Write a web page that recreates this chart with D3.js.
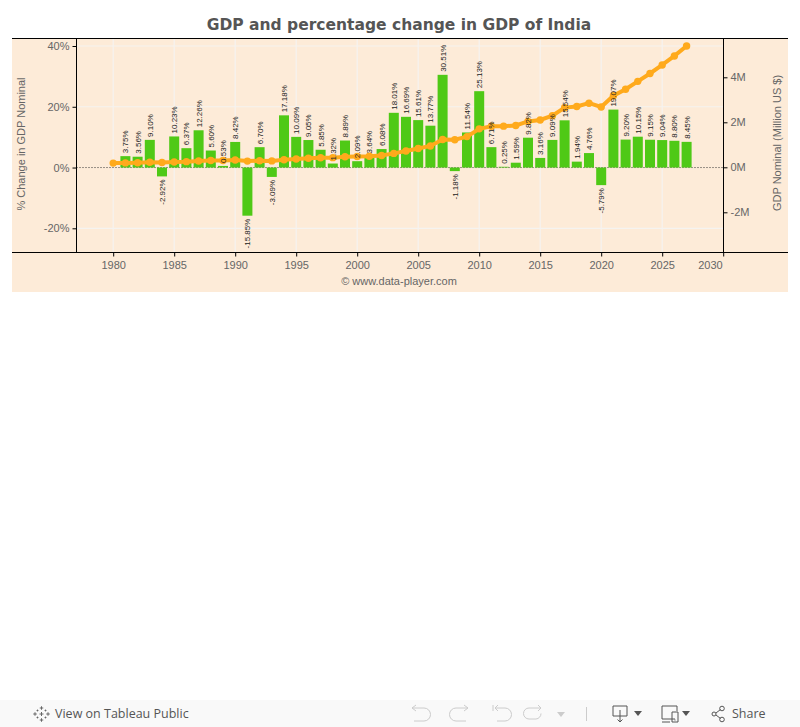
<!DOCTYPE html>
<html><head><meta charset="utf-8">
<script src="https://cdn.jsdelivr.net/npm/d3@7/dist/d3.min.js"></script>
<style>html,body{margin:0;padding:0;background:#fff;overflow:hidden}svg{display:block}text{font-family:"Liberation Sans",Arial,sans-serif}</style>
</head><body><svg id="c" width="800" height="727"></svg>
<script>
const years=[1980,1981,1982,1983,1984,1985,1986,1987,1988,1989,1990,1991,1992,1993,1994,1995,1996,1997,1998,1999,2000,2001,2002,2003,2004,2005,2006,2007,2008,2009,2010,2011,2012,2013,2014,2015,2016,2017,2018,2019,2020,2021,2022,2023,2024,2025,2026,2027];
const pctChange=[null,3.75,3.56,9.10,-2.92,10.23,6.37,12.26,5.60,0.53,8.42,-15.85,6.70,-3.09,17.18,10.09,9.05,5.85,1.32,8.89,2.09,3.64,6.08,18.01,16.69,15.61,13.77,30.51,-1.18,11.54,25.13,6.71,0.25,1.59,9.82,3.16,9.09,15.54,1.94,4.76,-5.79,19.07,9.20,10.15,9.15,9.04,8.80,8.45];
const gdpMillions=[186000,196000,204000,222000,215000,237000,252000,283000,299000,301000,327000,275000,293000,284000,333000,367000,400000,423000,429000,467000,477000,494000,524000,618000,722000,834000,949000,1238000,1224000,1365000,1708000,1823000,1828000,1857000,2039000,2104000,2295000,2652000,2703000,2850000,2680000,3180000,3470000,3820000,4170000,4550000,4950000,5390000];
const xTicks=[1980,1985,1990,1995,2000,2005,2010,2015,2020,2025,2030];
const pctTicks=[-20,0,20,40];
const gdpTicks=[-2000000,0,2000000,4000000];

const svg=d3.select("#c");
const x=d3.scaleLinear().domain([1977,2030]).range([76.6,723.2]);
const yP=d3.scaleLinear().domain([-20,40]).range([228.3,46]);
const yG=d3.scaleLinear().domain([-2000000,4000000]).range([212.3,77.3]);
const L=76.5,R=723.5,T=38.5,B=252.5;
const grey="#666";

svg.append("text").attr("x",399).attr("y",30).attr("text-anchor","middle")
  .style("font-family","'DejaVu Sans',sans-serif").style("font-weight","bold").style("font-size","15.5px").attr("fill","#555")
  .text("GDP and percentage change in GDP of India");
svg.append("rect").attr("x",12).attr("y",38).attr("width",776).attr("height",254).attr("fill","#fdebd8");

// gridlines
const grid=svg.append("g").attr("stroke","#f5f3f0").attr("stroke-width",1.2);
xTicks.slice(0,-1).forEach(t=>grid.append("line").attr("x1",x(t)).attr("x2",x(t)).attr("y1",T).attr("y2",B));
pctTicks.filter(t=>t!==0).forEach(t=>grid.append("line").attr("x1",L).attr("x2",R).attr("y1",yP(t)).attr("y2",yP(t)));

// zero line
svg.append("line").attr("x1",L).attr("x2",R).attr("y1",yP(0)).attr("y2",yP(0)).attr("stroke","#333").attr("stroke-dasharray","1,2");

const data=years.map((y,i)=>({y,p:pctChange[i],g:gdpMillions[i]}));
const bars=data.filter(d=>d.p!==null);
svg.append("g").selectAll("rect").data(bars).join("rect")
  .attr("x",d=>x(d.y)-5).attr("width",10)
  .attr("y",d=>Math.min(yP(d.p),yP(0))).attr("height",d=>Math.abs(yP(d.p)-yP(0)))
  .attr("fill","#4fc916");

const line=d3.line().x(d=>x(d.y)).y(d=>yG(d.g));
svg.append("path").datum(data).attr("d",line).attr("fill","none").attr("stroke","#ffaa1c").attr("stroke-width",4);
svg.append("g").selectAll("circle").data(data).join("circle")
  .attr("cx",d=>x(d.y)).attr("cy",d=>yG(d.g)).attr("r",3.7).attr("fill","#ffaa1c");

svg.append("g").selectAll("text").data(bars).join("text")
  .attr("transform",d=>`translate(${x(d.y)+2.9},${yP(d.p)+(d.p>=0?-3:3)}) rotate(-90)`)
  .attr("text-anchor",d=>d.p>=0?"start":"end")
  .attr("font-size","8px").attr("fill","#222")
  .text(d=>d.p.toFixed(2)+"%");

// axes
const axL=svg.append("g").attr("transform",`translate(${L},0)`).call(d3.axisLeft(yP).tickValues(pctTicks).tickFormat(d=>d+"%").tickSize(4).tickPadding(3));
const axR=svg.append("g").attr("transform",`translate(${R},0)`).call(d3.axisRight(yG).tickValues(gdpTicks).tickFormat(d=>(d/1000000)+"M").tickSize(4).tickPadding(3));
const axB=svg.append("g").attr("transform",`translate(0,${B})`).call(d3.axisBottom(x).tickValues(xTicks).tickFormat(d3.format("d")).tickSize(4).tickPadding(5));
[axL,axR,axB].forEach(a=>{a.select(".domain").remove();a.selectAll("line").attr("stroke","#000");a.selectAll("text").attr("fill",grey).style("font-size","11px").style("font-family","'Liberation Sans',Arial,sans-serif");});
axB.selectAll(".tick").filter(d=>d===2030).select("text").attr("text-anchor","end").attr("x",-1);
svg.append("line").attr("x1",12).attr("x2",788).attr("y1",T).attr("y2",T).attr("stroke","#000");
svg.append("line").attr("x1",12).attr("x2",788).attr("y1",B).attr("y2",B).attr("stroke","#000");
svg.append("line").attr("x1",L).attr("x2",L).attr("y1",T).attr("y2",B).attr("stroke","#000");
svg.append("line").attr("x1",R).attr("x2",R).attr("y1",T).attr("y2",B).attr("stroke","#000");

svg.append("text").attr("transform","translate(25,144) rotate(-90)").attr("text-anchor","middle").attr("font-size","11px").attr("fill",grey).text("% Change in GDP Nominal");
svg.append("text").attr("transform","translate(781,143) rotate(-90)").attr("text-anchor","middle").attr("font-size","11px").attr("fill",grey).text("GDP Nominal (Million US $)");
svg.append("text").attr("x",399).attr("y",285).attr("text-anchor","middle").attr("font-size","11px").attr("fill",grey).text("© www.data-player.com");

// Tableau toolbar
svg.append("rect").attr("x",0).attr("y",700).attr("width",800).attr("height",27).attr("fill","#f9f9f9");
const tb=svg.append("g").attr("fill","none").attr("stroke","#666").attr("stroke-width",1);
[[41.5,714]].forEach(([cx,cy])=>{
  [[0,-6,3.5],[0,6,3.5],[-6.5,0,3.5],[6.5,0,3.5],[0,0,4],[-4,-3.5,1.8],[4,-3.5,1.8],[-4,3.5,1.8],[4,3.5,1.8]].forEach(([dx,dy,s])=>{
    tb.append("line").attr("x1",cx+dx-s/2).attr("x2",cx+dx+s/2).attr("y1",cy+dy).attr("y2",cy+dy);
    tb.append("line").attr("x1",cx+dx).attr("x2",cx+dx).attr("y1",cy+dy-s/2).attr("y2",cy+dy+s/2);
  });
});
svg.append("text").attr("x",55).attr("y",718).attr("font-size","12.5px").attr("fill","#555").style("font-family","'Open Sans','Liberation Sans',sans-serif").text("View on Tableau Public");
const off=svg.append("g").attr("fill","none").attr("stroke","#ccc").attr("stroke-width",1);
off.append("path").attr("d","M412 708h12a6 6 0 0 1 0 13h-10M412 708l4-3M412 708l4 3");
off.append("path").attr("d","M468 708h-12a6 6 0 0 0 0 13h10M468 708l-4-3M468 708l-4 3");
off.append("path").attr("d","M493 705v6M495 708h10a6 6 0 0 1 0 13h-8M495 708l3-3M495 708l3 3");
off.append("path").attr("d","M541 708h-12a5.5 5.5 0 0 0 0 11h7a5.5 5.5 0 0 0 5-5.5M541 708l-3-3M541 708l-3 3");
svg.append("path").attr("d","M557 712h8l-4 5z").attr("fill","#ccc");
svg.append("line").attr("x1",586.5).attr("x2",586.5).attr("y1",707).attr("y2",721).attr("stroke","#ccc");
const on=svg.append("g").attr("fill","none").attr("stroke","#555").attr("stroke-width",1);
on.append("path").attr("d","M620 716h-7v-10h14v10h-7M620 710v12M617.5 719.5l2.5 2.5 2.5-2.5");
svg.append("path").attr("d","M634 711h8l-4 5z").attr("fill","#555");
on.append("path").attr("d","M675 719h-13v-13h15v5M670 722h-8M672 712h6v10h-6zM674.5 720h1");
svg.append("path").attr("d","M682 711h8l-4 5z").attr("fill","#555");
on.append("circle").attr("cx",714).attr("cy",714).attr("r",2);
on.append("circle").attr("cx",722).attr("cy",708.5).attr("r",2.3);
on.append("circle").attr("cx",722).attr("cy",719.5).attr("r",2.3);
on.append("path").attr("d","M716 713l4.5-3.5M716 715l4.5 3.5");
svg.append("text").attr("x",732).attr("y",718).attr("font-size","12.5px").attr("fill","#555").style("font-family","'Open Sans','Liberation Sans',sans-serif").text("Share");
</script></body></html>
